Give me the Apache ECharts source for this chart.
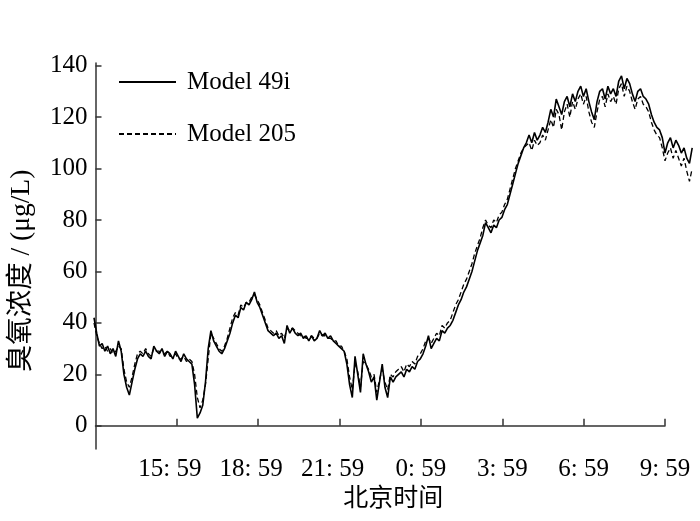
<!DOCTYPE html>
<html>
<head>
<meta charset="utf-8">
<script src="https://cdn.jsdelivr.net/npm/echarts@6.0.0/dist/echarts.min.js"></script>
<style>
    html, body { margin: 0; padding: 0; background: #fff; }
    #chart { width: 700px; height: 521px; }
</style>
</head>
<body>
<div id="chart"></div>
<script>
// 采样: 从 12:59 开始, 每 0.1 小时一个点 (数据一直画到 10:59, 坐标轴只到 9:59)
const startHour = 0;
const stepHour = 0.1;
const axisEndHour = 21;
const dataEndHour = 22;

const model49i = [
    42, 36, 31, 32, 29, 31, 28, 30, 27, 33,
    29, 20, 15, 12, 17, 22, 26, 28, 27, 29,
    27, 26, 31, 29, 28, 30, 27, 29, 28, 26,
    29, 27, 25, 28, 26, 25, 24, 16, 3, 5,
    8, 17, 30, 37, 33, 31, 29, 28, 30, 33,
    36, 40, 43, 42, 46, 45, 48, 47, 49, 52,
    48, 46, 43, 40, 37, 36, 35, 36, 34, 35,
    32, 39, 36, 38, 36, 35, 36, 34, 35, 33,
    35, 33, 34, 37, 35, 36, 34, 35, 33, 32,
    31, 30, 29, 24, 16, 11, 27, 20, 13, 28,
    24, 21, 17, 19, 10, 17, 24, 15, 11, 19,
    17, 19, 20, 21, 19, 22, 21, 23, 22, 25,
    26, 28, 31, 35, 30, 32, 34, 33, 37, 36,
    38, 39, 41, 44, 47, 49, 52, 54, 57, 60,
    64, 68, 71, 74, 79, 77, 75, 78, 77, 80,
    81, 84, 86, 90, 94, 98, 102, 105, 108, 110,
    113, 110, 114, 111, 113, 116, 114, 118, 123, 120,
    127, 124, 121, 126, 128, 124, 129, 126, 130, 132,
    128, 131, 126, 122, 119, 126, 130, 131, 127, 132,
    129, 131, 128, 134, 136, 131, 135, 133, 129, 126,
    130, 131, 128, 127, 125, 121, 118, 116, 115, 112,
    106, 110, 112, 108, 111, 109, 106, 108, 104, 102,
    108
];

const model205 = [
    40, 35, 32, 30, 31, 29, 30, 28, 29, 31,
    30, 22, 17, 15, 19, 24, 28, 29, 28, 30,
    28, 27, 30, 29, 29, 28, 28, 29, 27, 27,
    28, 26, 26, 27, 25, 26, 25, 20, 11, 7,
    10, 16, 26, 36, 34, 32, 30, 29, 31, 34,
    38, 42, 44, 43, 47, 46, 48, 48, 50, 51,
    49, 47, 44, 41, 38, 37, 36, 37, 35, 36,
    34, 38, 37, 38, 37, 36, 35, 35, 34, 34,
    35, 34, 34, 36, 35, 35, 34, 34, 33, 33,
    31, 31, 29, 26, 19, 14, 24, 21, 15, 25,
    24, 22, 19, 20, 13, 18, 22, 17, 14, 20,
    19, 21, 22, 23, 21, 24, 23, 25, 24, 27,
    28, 30, 33, 34, 32, 34, 36, 35, 39, 38,
    40, 41, 44, 47, 49, 52, 55, 57, 60, 63,
    67, 70, 73, 77, 80, 78, 77, 80, 79, 82,
    83, 86, 88, 92, 96, 100, 103, 106, 108, 109,
    110, 107, 111, 109, 110, 113, 111, 115, 119, 116,
    123, 121, 115, 122, 125, 120, 126, 123, 127, 129,
    125, 128, 122, 118, 116, 122, 127, 128, 124, 129,
    126, 128, 125, 131, 133, 128, 132, 130, 126, 123,
    127, 128, 125, 124, 122, 118, 115, 113, 112, 108,
    103, 106, 108, 104, 107, 104, 101, 104, 99, 95,
    100
];

const xTickValues = [3, 6, 9, 12, 15, 18, 21];
const xTickLabels = ['15: 59', '18: 59', '21: 59', '0: 59', '3: 59', '6: 59', '9: 59'];
const yTickValues = [0, 20, 40, 60, 80, 100, 120, 140];
const yMin = -9;
const yMax = 141;

const fontFamily = '"Liberation Serif", "Noto Sans CJK SC", serif';

function toPoints(values) {
    return values.map((v, i) => [startHour + i * stepHour, v]);
}

const chart = echarts.init(document.getElementById('chart'));

// 布局
const gridLeft = 94, gridRight = 35, gridTop = 63, gridBottom = 72;
const axisWidth = 700 - gridLeft - gridRight;
const dataWidth = axisWidth * (dataEndHour - startHour) / (axisEndHour - startHour);

const axisLineStyle = { color: '#333', width: 1.5 };

chart.setOption({
    animation: false,
    backgroundColor: '#fff',
    textStyle: { fontFamily: fontFamily, color: '#000' },
    grid: [
        { left: gridLeft, right: gridRight, top: gridTop, bottom: gridBottom },
        { left: gridLeft, width: dataWidth, top: gridTop, bottom: gridBottom }
    ],
    legend: {
        orient: 'vertical',
        left: 118,
        top: 69,
        padding: 0,
        itemWidth: 57,
        itemHeight: 14,
        itemGap: 26,
        itemStyle: { opacity: 0 },
        textStyle: { fontFamily: fontFamily, fontSize: 25, color: '#000', padding: [0, 0, 0, 6], lineHeight: 26 },
        data: ['Model 49i', 'Model 205']
    },
    xAxis: [
        {
            gridIndex: 0,
            type: 'value',
            min: startHour,
            max: axisEndHour,
            interval: 3,
            name: '北京时间',
            nameLocation: 'middle',
            nameGap: 38,
            nameTextStyle: { fontFamily: fontFamily, fontSize: 25, color: '#000', padding: [0, 0, 0, 26] },
            axisLine: { lineStyle: axisLineStyle },
            axisTick: { inside: true, length: 7, lineStyle: axisLineStyle, customValues: xTickValues },
            axisLabel: {
                fontSize: 25,
                color: '#000',
                margin: 8,
                customValues: xTickValues,
                formatter: function (v) {
                    const idx = xTickValues.indexOf(v);
                    if (idx < 0) return '';
                    const label = xTickLabels[idx];
                    // 两位小时的标签在原图里略偏左
                    return label.indexOf(':') === 2 ? '{w|' + label + '}' : label;
                },
                rich: {
                    w: { fontFamily: fontFamily, fontSize: 25, color: '#000', padding: [0, 14, 0, 0] }
                }
            },
            splitLine: { show: false }
        },
        {
            gridIndex: 1,
            type: 'value',
            min: startHour,
            max: dataEndHour,
            show: false
        }
    ],
    yAxis: [
        {
            gridIndex: 0,
            type: 'value',
            min: yMin,
            max: yMax,
            name: '臭氧浓度 / (μg/L)',
            nameLocation: 'middle',
            nameGap: 60,
            nameTextStyle: { fontFamily: fontFamily, fontSize: 27.5, color: '#000', padding: [0, 30, 0, 0] },
            axisLine: { show: true, lineStyle: axisLineStyle },
            axisTick: { show: true, inside: true, length: 6, lineStyle: axisLineStyle, customValues: yTickValues },
            axisLabel: { fontSize: 25, color: '#000', margin: 8, customValues: yTickValues },
            splitLine: { show: false }
        },
        {
            gridIndex: 1,
            type: 'value',
            min: yMin,
            max: yMax,
            show: false
        }
    ],
    series: [
        {
            name: 'Model 49i',
            type: 'line',
            xAxisIndex: 1,
            yAxisIndex: 1,
            data: toPoints(model49i),
            symbol: 'none',
            lineStyle: { color: '#000', width: 1.6 },
            itemStyle: { color: '#000' }
        },
        {
            name: 'Model 205',
            type: 'line',
            xAxisIndex: 1,
            yAxisIndex: 1,
            data: toPoints(model205),
            symbol: 'none',
            lineStyle: { color: '#000', width: 1.3, type: [5, 3] },
            itemStyle: { color: '#000' }
        }
    ]
});
</script>
</body>
</html>
